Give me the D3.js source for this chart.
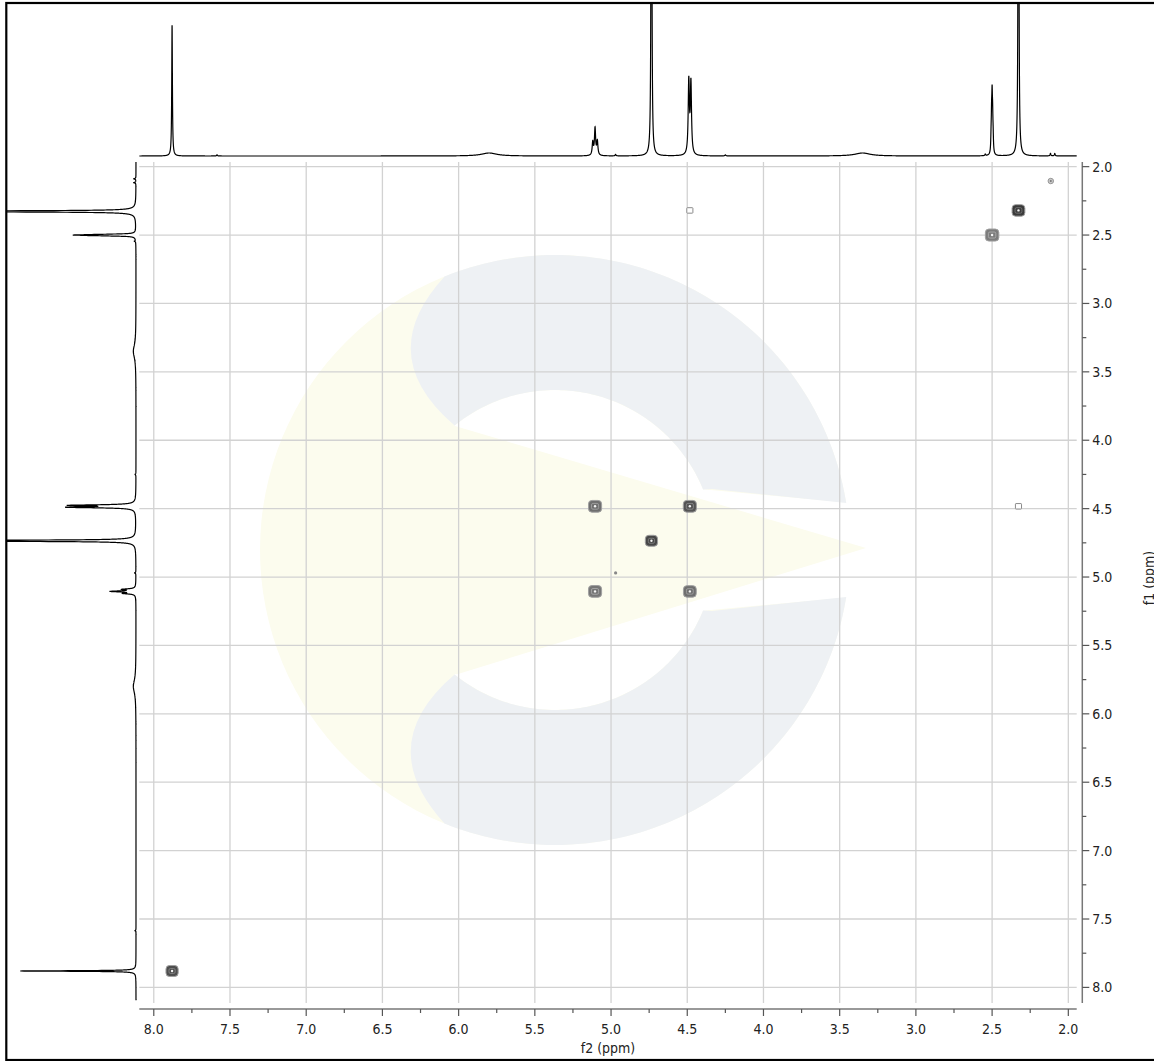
<!DOCTYPE html>
<html><head><meta charset="utf-8">
<script src="https://cdn.jsdelivr.net/npm/d3@7"></script>
<style>html,body{margin:0;padding:0;background:#fff;overflow:hidden}</style>
</head><body><svg id="c" width="1154" height="1061"></svg>
<script>
// ---------- data ----------
const xTicks = [8.0,7.5,7.0,6.5,6.0,5.5,5.0,4.5,4.0,3.5,3.0,2.5,2.0];
const yTicks = [2.0,2.5,3.0,3.5,4.0,4.5,5.0,5.5,6.0,6.5,7.0,7.5,8.0];
const xTickLabels = ["8.0","7.5","7.0","6.5","6.0","5.5","5.0","4.5","4.0","3.5","3.0","2.5","2.0"];
const yTickLabels = ["2.0","2.5","3.0","3.5","4.0","4.5","5.0","5.5","6.0","6.5","7.0","7.5","8.0"];
// 1D projection peak table (ppm, height, half width in ppm)
const peakPpm    = [7.880, 7.585, 5.800, 5.120, 5.105, 5.090, 4.970, 4.735, 4.490, 4.476, 4.250, 3.350, 2.545, 2.5066, 2.5033, 2.500, 2.4967, 2.4934, 2.327, 2.117, 2.089];
const peakHeight = [131,   1.2,   3.0,   13,    27,    14,    1.5,   900,   73,    71,    1.0,   3.0,   1.5,   12.5,   30,     47,    28,     12.5,   900,   2.5,   2.5];
const peakWidth  = [0.0026,0.003, 0.06,  0.0045,0.0045,0.0045,0.003, 0.002, 0.0046,0.0046,0.004, 0.06,  0.003, 0.0025, 0.0025, 0.0025,0.0025, 0.0025, 0.002, 0.003, 0.003];
// 2D cross peaks
const crossF2    = [7.880, 2.327, 2.500, 2.115, 4.483, 2.327, 5.105, 4.483, 4.735, 4.970, 5.105, 4.483];
const crossF1    = [7.880, 2.320, 2.500, 2.105, 2.320, 4.483, 4.483, 4.483, 4.735, 4.970, 5.105, 5.105];
const crossLevel = [0.80,  0.95,  0.45,  0.35,  0.10,  0.10,  0.55,  0.75,  0.85,  0.30,  0.50,  0.55];
const crossSize  = [0.040, 0.042, 0.044, 0.020, 0.020, 0.020, 0.043, 0.043, 0.040, 0.008, 0.043, 0.042];

// ---------- layout ----------
const svg = d3.select("#c");
const x = d3.scaleLinear().domain([8.095, 1.945]).range([139.3, 1076.7]);
const y = d3.scaleLinear().domain([1.966, 8.114]).range([162, 1003]);
const topY = d3.scaleLinear().domain([0, 153]).range([156, 3]);
const leftX = d3.scaleLinear().domain([0, 153]).range([136, 136 - 153 * 0.885]);

// ---------- watermark ----------
const wm = svg.append("g");
const cx0 = 555, cy0 = 550, R = 295, r = 160;
const YEL = "#fcfcee", BLU = "#eef1f4";
wm.append("circle").attr("cx", cx0).attr("cy", cy0).attr("r", R).attr("fill", YEL);
function upperArm() {
  const p = d3.path();
  const steps = 80;
  const a1 = Math.atan2(276 - cy0, 445 - cx0);
  const a2 = Math.atan2(503 - cy0, 846 - cx0);
  for (let i = 0; i <= steps; i++) {
    const a = a1 + (a2 - a1) * i / steps;
    const px = cx0 + R * Math.cos(a), py = cy0 + R * Math.sin(a);
    if (i === 0) p.moveTo(px, py); else p.lineTo(px, py);
  }
  p.lineTo(712, 489);
  const b1 = Math.atan2(489 - cy0, 704 - cx0);
  const b2 = Math.atan2(426 - cy0, 455 - cx0);
  for (let i = 0; i <= steps; i++) {
    const a = b1 + (b2 - b1) * i / steps;
    p.lineTo(cx0 + r * Math.cos(a), cy0 + r * Math.sin(a));
  }
  p.quadraticCurveTo(372, 355, 445, 276);
  p.closePath();
  return p.toString();
}
// white hole + opening
wm.append("circle").attr("cx", cx0).attr("cy", cy0).attr("r", r).attr("fill", "#ffffff");
wm.append("path").attr("d", "M700,489 L852,503 L852,597 L700,611 Z").attr("fill", "#ffffff");
wm.append("path").attr("d", upperArm()).attr("fill", BLU);
wm.append("path").attr("d", upperArm()).attr("fill", BLU)
  .attr("transform", `translate(0,${2 * cy0}) scale(1,-1)`);
// yellow wedge
wm.append("path").attr("d", "M385,420 L455,426 L866,548 L458,674 L385,680 Z").attr("fill", YEL);

// ---------- grid ----------
const grid = svg.append("g").attr("stroke", "#d2d2d2").attr("stroke-width", 1.3);
grid.selectAll(".vx").data(xTicks).join("line")
  .attr("x1", d => x(d)).attr("x2", d => x(d)).attr("y1", 162).attr("y2", 1003);
grid.selectAll(".hy").data(yTicks).join("line")
  .attr("y1", d => y(d)).attr("y2", d => y(d)).attr("x1", 139.3).attr("x2", 1076.7);

// ---------- cross peaks ----------
const cp = svg.append("g");
crossF2.forEach((f2, i) => {
  const cx = x(f2), cy = y(crossF1[i]);
  const hx = x(f2) - x(f2 + crossSize[i]);
  const hy = y(crossF1[i] + crossSize[i]) - y(crossF1[i]);
  const lv = crossLevel[i];
  const col = d3.interpolateRgb("#b8b8b8", "#333333")(lv);
  if (crossSize[i] < 0.01) {
    cp.append("circle").attr("cx", cx).attr("cy", cy).attr("r", 1.6).attr("fill", "#888");
    return;
  }
  if (crossSize[i] < 0.03 && lv < 0.2) {
    cp.append("rect").attr("x", cx - hx).attr("y", cy - hy).attr("width", 2 * hx).attr("height", 2 * hy)
      .attr("rx", 0.6).attr("fill", "#fff").attr("stroke", "#8a8a8a").attr("stroke-width", 1);
    return;
  }
  if (crossSize[i] < 0.03) {
    cp.append("circle").attr("cx", cx).attr("cy", cy).attr("r", hx * 0.9)
      .attr("fill", "#c8c8c8").attr("stroke", "#999").attr("stroke-width", 1);
    cp.append("circle").attr("cx", cx).attr("cy", cy).attr("r", 1).attr("fill", "#777");
    return;
  }
  cp.append("rect").attr("x", cx - hx).attr("y", cy - hy).attr("width", 2 * hx).attr("height", 2 * hy)
    .attr("rx", Math.min(hx, 3.5)).attr("fill", col).attr("stroke", "#a0a0a0").attr("stroke-width", 1);
  if (hx > 4) {
    cp.append("rect").attr("x", cx - hx + 3).attr("y", cy - hy + 3).attr("width", 2 * hx - 6).attr("height", 2 * hy - 6)
      .attr("rx", 1.5).attr("fill", "none").attr("stroke", d3.interpolateRgb("#e0e0e0", "#777")(lv)).attr("stroke-width", 0.8);
  }
  cp.append("circle").attr("cx", cx).attr("cy", cy).attr("r", 1.2).attr("fill", "#f4f4f4");
});

// ---------- 1D spectra ----------
function intensity(ppm) {
  let s = 0;
  for (let k = 0; k < peakPpm.length; k++) {
    const d = ppm - peakPpm[k], g = peakWidth[k];
    s += peakHeight[k] * g * g / (d * d + g * g);
  }
  return s;
}
const samples = [];
for (let p = 1.945; p <= 8.095; p += 0.0003) samples.push([p, intensity(p)]);

svg.append("clipPath").attr("id", "clipTop").append("rect").attr("x", 139).attr("y", 3.5).attr("width", 938).attr("height", 158);
svg.append("clipPath").attr("id", "clipLeft").append("rect").attr("x", 6.5).attr("y", 161).attr("width", 134).attr("height", 841);

svg.append("path").attr("clip-path", "url(#clipTop)")
  .attr("d", d3.line().x(d => x(d[0])).y(d => topY(Math.min(d[1], 400)))(samples))
  .attr("fill", "none").attr("stroke", "#000").attr("stroke-width", 1.2);
const leftSamples = samples.filter(d => d[0] >= 1.966 && d[0] <= 8.1);
svg.append("path").attr("clip-path", "url(#clipLeft)")
  .attr("d", d3.line().y(d => y(d[0])).x(d => leftX(Math.min(d[1], 400)))(leftSamples))
  .attr("fill", "none").attr("stroke", "#000").attr("stroke-width", 1.2);

// ---------- axes ----------
const font = "'DejaVu Sans Condensed','DejaVu Sans',sans-serif";
const xAxis = svg.append("g").attr("transform", "translate(0,1009)");
xAxis.call(d3.axisBottom(x).tickValues(xTicks).tickSize(0).tickFormat(""));
xAxis.select(".domain").attr("d", `M${x.range()[0]},0H${x.range()[1]}`).attr("stroke", "#777").attr("stroke-width", 1.5);
const xMinor = d3.range(7.75, 2.1, -0.5);
xAxis.selectAll(".maj").data(xTicks).join("line").attr("x1", d => x(d)).attr("x2", d => x(d)).attr("y1", 0).attr("y2", 7).attr("stroke", "#555").attr("stroke-width", 1.2);
xAxis.selectAll(".min").data(xMinor).join("line").attr("x1", d => x(d)).attr("x2", d => x(d)).attr("y1", 0).attr("y2", 4).attr("stroke", "#555").attr("stroke-width", 1.2);
xAxis.selectAll(".lbl").data(xTicks).join("text").attr("x", d => x(d)).attr("y", 25)
  .attr("text-anchor", "middle").attr("font-family", font).attr("font-size", 14).attr("fill", "#222")
  .text((d, i) => xTickLabels[i]);

const yAxis = svg.append("g").attr("transform", "translate(1082.3,0)");
yAxis.append("line").attr("x1", 0).attr("x2", 0).attr("y1", 162).attr("y2", 1003).attr("stroke", "#777").attr("stroke-width", 1.5);
const yMinor = d3.range(2.25, 8.0, 0.5);
yAxis.selectAll(".maj").data(yTicks).join("line").attr("y1", d => y(d)).attr("y2", d => y(d)).attr("x1", 0).attr("x2", 7).attr("stroke", "#555").attr("stroke-width", 1.2);
yAxis.selectAll(".min").data(yMinor).join("line").attr("y1", d => y(d)).attr("y2", d => y(d)).attr("x1", 0).attr("x2", 4).attr("stroke", "#555").attr("stroke-width", 1.2);
yAxis.selectAll(".lbl").data(yTicks).join("text").attr("x", 10).attr("y", d => y(d)).attr("dy", "0.36em")
  .attr("font-family", font).attr("font-size", 14).attr("fill", "#222")
  .text((d, i) => yTickLabels[i]);

svg.append("text").attr("x", 608).attr("y", 1053).attr("text-anchor", "middle")
  .attr("font-family", font).attr("font-size", 14).attr("fill", "#222").text("f2 (ppm)");
svg.append("text").attr("transform", "translate(1154,578) rotate(-90)").attr("text-anchor", "middle")
  .attr("font-family", font).attr("font-size", 14).attr("fill", "#222").text("f1 (ppm)");

// ---------- frame ----------
svg.append("rect").attr("x", 6.3).attr("y", 3).attr("width", 1165).attr("height", 1057)
  .attr("fill", "none").attr("stroke", "#000").attr("stroke-width", 2.2);
</script></body></html>
